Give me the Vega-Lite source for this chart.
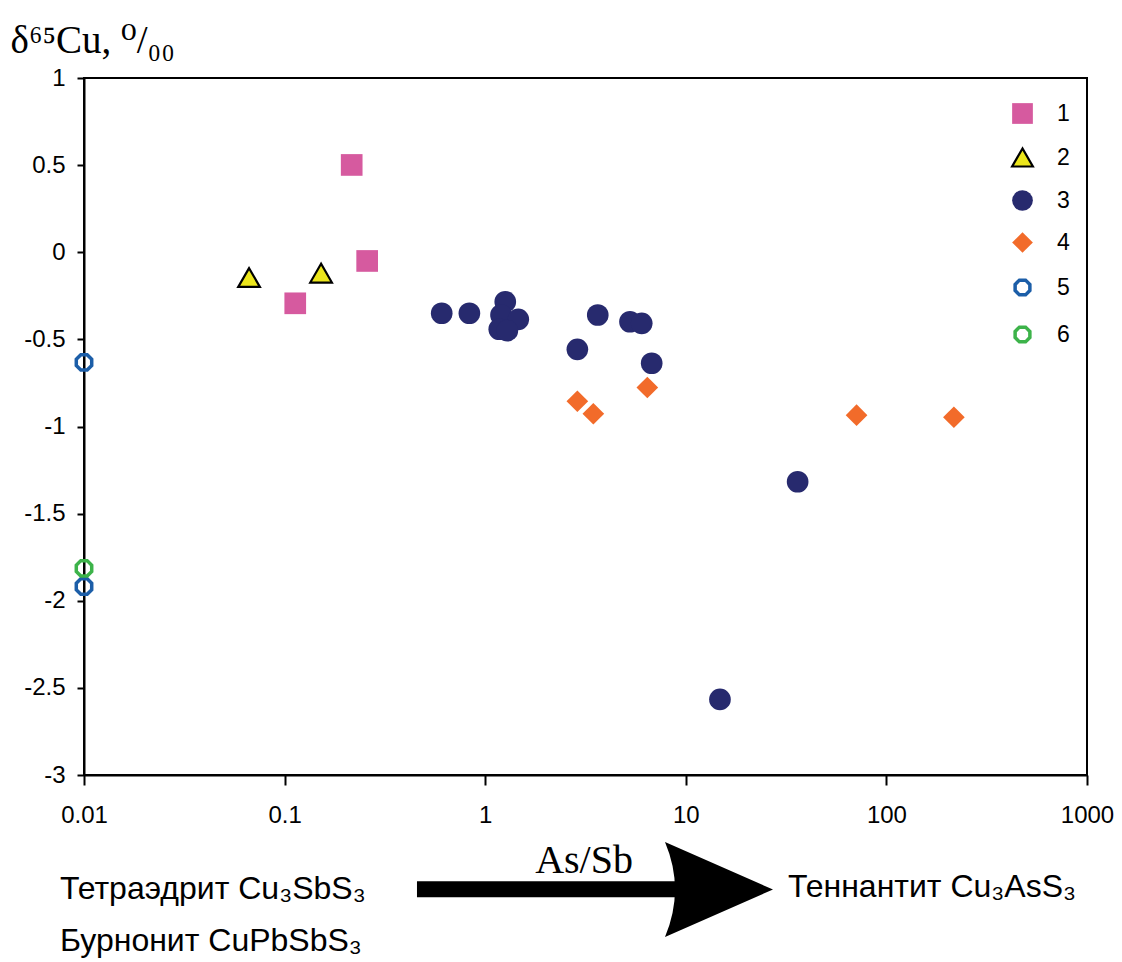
{
  "$schema": "https://vega.github.io/schema/vega-lite/v6.json",
  "width": 1003,
  "height": 697,
  "autosize": {"type": "none"},
  "padding": {"left": 84, "top": 78, "right": 35, "bottom": 187},
  "background": "white",
  "config": {
    "view": {"stroke": "black", "strokeWidth": 2},
    "axis": {"labelFont": "Liberation Sans", "labelFontSize": 24, "labelColor": "black", "domainColor": "black", "domainWidth": 2, "tickColor": "black", "tickWidth": 2, "grid": false}
  },
  "datasets": {
    "points": [
      {"ratio": 0.216, "d65Cu": 0.501, "group": "1"},
      {"ratio": 0.258, "d65Cu": -0.05, "group": "1"},
      {"ratio": 0.113, "d65Cu": -0.293, "group": "1"},
      {"ratio": 0.0665, "d65Cu": -0.145, "group": "2"},
      {"ratio": 0.152, "d65Cu": -0.12, "group": "2"},
      {"ratio": 0.607, "d65Cu": -0.35, "group": "3"},
      {"ratio": 0.834, "d65Cu": -0.35, "group": "3"},
      {"ratio": 1.259, "d65Cu": -0.284, "group": "3"},
      {"ratio": 1.199, "d65Cu": -0.36, "group": "3"},
      {"ratio": 1.462, "d65Cu": -0.385, "group": "3"},
      {"ratio": 1.175, "d65Cu": -0.442, "group": "3"},
      {"ratio": 1.289, "d65Cu": -0.45, "group": "3"},
      {"ratio": 3.64, "d65Cu": -0.36, "group": "3"},
      {"ratio": 5.27, "d65Cu": -0.399, "group": "3"},
      {"ratio": 6.03, "d65Cu": -0.408, "group": "3"},
      {"ratio": 2.88, "d65Cu": -0.557, "group": "3"},
      {"ratio": 6.76, "d65Cu": -0.637, "group": "3"},
      {"ratio": 36.1, "d65Cu": -1.317, "group": "3"},
      {"ratio": 14.8, "d65Cu": -2.566, "group": "3"},
      {"ratio": 2.88, "d65Cu": -0.855, "group": "4"},
      {"ratio": 3.46, "d65Cu": -0.927, "group": "4"},
      {"ratio": 6.43, "d65Cu": -0.776, "group": "4"},
      {"ratio": 71, "d65Cu": -0.935, "group": "4"},
      {"ratio": 217, "d65Cu": -0.947, "group": "4"},
      {"ratio": 0.01, "d65Cu": -0.632, "group": "5"},
      {"ratio": 0.01, "d65Cu": -1.918, "group": "5"},
      {"ratio": 0.01, "d65Cu": -1.814, "group": "6"}
    ],
    "labels": [
      {"label": "Тетраэдрит Cu₃SbS₃", "x": 0.00759, "y": -3.652},
      {"label": "Бурнонит CuPbSbS₃", "x": 0.00759, "y": -3.955},
      {"label": "Теннантит Cu₃AsS₃", "x": 32.3, "y": -3.64}
    ],
    "axisLabel": [
      {"label": "As/Sb", "x": 3.11, "y": -3.563}
    ],
    "shaft": [
      {"x": 0.457, "x2": 9.4, "y": -3.655}
    ],
    "head": [
      {"x": 14.64, "y": -3.657}
    ]
  },
  "layer": [
    {
      "data": {"name": "shaft"},
      "mark": {"type": "rule", "color": "black", "strokeWidth": 16, "strokeCap": "butt"},
      "encoding": {
        "x": {"field": "x", "type": "quantitative", "scale": {"type": "log", "domain": [0.01, 1000]}},
        "x2": {"field": "x2"},
        "y": {"field": "y", "type": "quantitative", "scale": {"domain": [-3, 1]}}
      }
    },
    {
      "data": {"name": "head"},
      "mark": {"type": "point", "filled": true, "color": "black", "opacity": 1, "size": 11664, "shape": "M1,0L-1,-0.88Q-0.63,0,-1,0.88Z"},
      "encoding": {
        "x": {"field": "x", "type": "quantitative"},
        "y": {"field": "y", "type": "quantitative"}
      }
    },
    {
      "data": {"name": "labels"},
      "mark": {"type": "text", "font": "Liberation Sans", "fontSize": 32, "align": "left", "baseline": "middle", "color": "black"},
      "encoding": {
        "x": {"field": "x", "type": "quantitative"},
        "y": {"field": "y", "type": "quantitative"},
        "text": {"field": "label"}
      }
    },
    {
      "data": {"name": "axisLabel"},
      "mark": {"type": "text", "font": "Liberation Serif", "fontSize": 40, "align": "center", "baseline": "alphabetic", "color": "black"},
      "encoding": {
        "x": {"field": "x", "type": "quantitative"},
        "y": {"field": "y", "type": "quantitative"},
        "text": {"field": "label"}
      }
    },
    {
      "data": {"name": "points"},
      "mark": {"type": "point", "size": 470, "opacity": 1},
      "encoding": {
        "x": {
          "field": "ratio", "type": "quantitative",
          "scale": {"type": "log", "domain": [0.01, 1000]},
          "axis": {"values": [0.01, 0.1, 1, 10, 100, 1000], "format": "~g", "title": null, "tickSize": 10, "labelPadding": 18, "labelFlush": false}
        },
        "y": {
          "field": "d65Cu", "type": "quantitative",
          "scale": {"domain": [-3, 1], "nice": false, "zero": false},
          "axis": {
            "values": [1, 0.5, 0, -0.5, -1, -1.5, -2, -2.5, -3],
            "format": "~g",
            "labelExpr": "replace(datum.label, '−', '-')",
            "tickSize": 7, "labelPadding": 12,
            "title": "δ⁶⁵Cu, ⁰/₀₀", "titleAngle": 0, "titleX": -74, "titleY": -26,
            "titleAlign": "left", "titleBaseline": "alphabetic",
            "titleFont": "Liberation Serif, DejaVu Serif", "titleFontSize": 39, "titleFontWeight": "normal", "titleColor": "black"
          }
        },
        "shape": {
          "field": "group", "type": "nominal",
          "scale": {"domain": ["1", "2", "3", "4", "5", "6"], "range": ["square", "triangle-up", "circle", "diamond", "M0.711,0.295L0.295,0.711L-0.295,0.711L-0.711,0.295L-0.711,-0.295L-0.295,-0.711L0.295,-0.711L0.711,-0.295Z", "M0.711,0.295L0.295,0.711L-0.295,0.711L-0.711,0.295L-0.711,-0.295L-0.295,-0.711L0.295,-0.711L0.711,-0.295Z"]},
          "legend": {"title": null, "orient": "none", "legendX": 926, "legendY": 24, "labelFont": "Liberation Sans", "labelFontSize": 23, "labelColor": "black", "symbolSize": 430, "rowPadding": 18, "labelOffset": 22}
        },
        "fill": {
          "field": "group", "type": "nominal",
          "scale": {"domain": ["1", "2", "3", "4", "5", "6"], "range": ["#d65a9f", "#ece61c", "#272a6e", "#f26b2a", "transparent", "transparent"]},
          "legend": {"title": null}
        },
        "stroke": {
          "field": "group", "type": "nominal",
          "scale": {"domain": ["1", "2", "3", "4", "5", "6"], "range": ["#d65a9f", "#000000", "#272a6e", "#f26b2a", "#1c5ea8", "#3db34a"]},
          "legend": {"title": null}
        },
        "strokeWidth": {
          "field": "group", "type": "ordinal",
          "scale": {"type": "ordinal", "domain": ["1", "2", "3", "4", "5", "6"], "range": [0, 2.2, 0, 0, 3.5, 3.5]},
          "legend": {"title": null}
        }
      }
    }
  ]
}
